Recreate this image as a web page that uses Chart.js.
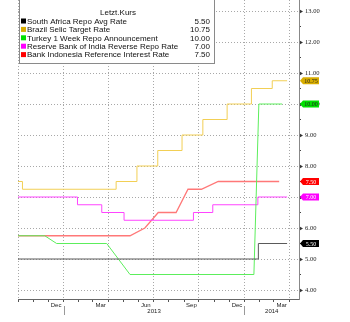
<!DOCTYPE html>
<html>
<head>
<meta charset="utf-8">
<script src="https://cdn.jsdelivr.net/npm/chart.js@4.4.1/dist/chart.umd.min.js"></script>
<style>
    html, body { margin: 0; padding: 0; background: #fff; }
</style>
</head>
<body>
<canvas id="chart" width="350" height="322"></canvas>
<script>
// =====================
// DATOS
// =====================
const seriesNames = [
    "South Africa Repo Avg Rate",
    "Brazil Selic Target Rate",
    "Turkey 1 Week Repo Announcement",
    "Reserve Bank of India Reverse Repo Rate",
    "Bank Indonesia Reference Interest Rate"
];

// escalones (cambia el valor en la fecha)
const saDates = ["2012-10-01", "2014-01-29", "2014-03-28"];
const saRates = [5.00, 5.50, 5.50];

const brDates = ["2012-10-01", "2012-10-10", "2013-04-17", "2013-05-29", "2013-07-10",
                 "2013-08-28", "2013-10-09", "2013-11-27", "2014-01-15", "2014-02-26", "2014-03-28"];
const brRates = [7.50, 7.25, 7.50, 8.00, 8.50, 9.00, 9.50, 10.00, 10.50, 10.75, 10.75];

const inDates = ["2012-10-01", "2013-01-29", "2013-03-19", "2013-05-03", "2013-09-20",
                 "2013-10-29", "2014-01-28", "2014-03-28"];
const inRates = [7.00, 6.75, 6.50, 6.25, 6.50, 6.75, 7.00, 7.00];

// vertices (lineas con pendiente)
const trDates = ["2012-10-01", "2012-11-24", "2012-12-18", "2013-03-29", "2013-05-15",
                 "2014-01-20", "2014-01-30", "2014-03-18"];
const trRates = [5.75, 5.75, 5.50, 5.50, 4.50, 4.50, 10.00, 10.00];

const idDates = ["2012-10-01", "2013-05-15", "2013-06-14", "2013-07-11", "2013-08-16",
                 "2013-09-09", "2013-10-06", "2013-11-09", "2014-03-12"];
const idRates = [5.75, 5.75, 6.00, 6.50, 6.50, 7.25, 7.25, 7.50, 7.50];

const yTicks = [4, 5, 6, 7, 8, 9, 10, 11, 12, 13];
const monthNames = ["Jan", "Feb", "Mar", "Apr", "May", "Jun", "Jul", "Aug", "Sep", "Oct", "Nov", "Dec"];
const yearLabels = ["2013", "2014"];
const yearStarts = ["2013-01-01", "2014-01-01"];

// =====================
// ESTILOS
// =====================
const lineColors = ["#5a5a5a", "#f2cf55", "#5cee5c", "#ff44ff", "#ff7878"];
const boxColors = ["#000000", "#d8ad00", "#00e000", "#ff00ff", "#ff0000"];
const tagText = ["#ffffff", "#222222", "#222222", "#ffffff", "#ffffff"];

const origin = Date.UTC(2012, 9, 1);
function toDay(s) {
    const p = s.split("-").map(Number);
    return (Date.UTC(p[0], p[1] - 1, p[2]) - origin) / 86400000;
}
function pts(dates, rates) {
    return dates.map((d, i) => ({ x: toDay(d), y: rates[i] }));
}

// inicio de cada mes (Oct 2012 .. Apr 2014)
const monthStarts = [];
for (let m = 9; m <= 12 + 12 + 3; m++) {
    monthStarts.push({ value: (Date.UTC(2012, m, 1) - origin) / 86400000, month: m % 12 });
}
const seriesData = [
    pts(saDates, saRates),
    pts(brDates, brRates),
    pts(trDates, trRates),
    pts(inDates, inRates),
    pts(idDates, idRates)
];
const stepped = [true, true, false, true, false];

const clear = "rgba(0,0,0,0)";

// =====================
// PLUGIN: leyenda, años, etiquetas
// =====================
const overlay = {
    id: "overlay",
    afterDraw(chart) {
        const ctx = chart.ctx;
        const xs = chart.scales.x, ys = chart.scales.y;
        ctx.save();

        // flechas del eje Y
        ctx.fillStyle = "#333";
        yTicks.forEach(v => {
            const py = Math.round(ys.getPixelForValue(v)) + 0.5;
            ctx.beginPath();
            ctx.moveTo(xs.right + 1, py - 1.8);
            ctx.lineTo(xs.right + 4, py);
            ctx.lineTo(xs.right + 1, py + 1.8);
            ctx.closePath();
            ctx.fill();
        });

        // años
        ctx.font = "6px 'Liberation Sans'";
        ctx.fillStyle = "#222";
        ctx.textAlign = "center";
        ctx.textBaseline = "middle";
        yearLabels.forEach((lab, i) => {
            const a = Math.max(xs.getPixelForValue(toDay(yearStarts[i])), xs.left);
            const endYear = Number(lab) + 1;
            const b = Math.min(xs.getPixelForValue(toDay(endYear + "-01-01")), xs.right);
            ctx.fillText(lab, (a + b) / 2, 311);
        });
        ctx.strokeStyle = "#999";
        ctx.lineWidth = 1;
        yearStarts.forEach(s => {
            const px = Math.round(xs.getPixelForValue(toDay(s))) + 0.5;
            ctx.beginPath();
            ctx.moveTo(px, 306);
            ctx.lineTo(px, 315);
            ctx.stroke();
        });

        // etiquetas de ultimo valor
        ctx.font = "6px 'Liberation Serif'";
        seriesData.forEach((data, i) => {
            const v = data[data.length - 1].y;
            const py = ys.getPixelForValue(v);
            const x0 = xs.right + 1;
            ctx.fillStyle = boxColors[i];
            ctx.beginPath();
            ctx.moveTo(x0, py);
            ctx.lineTo(x0 + 3, py - 3.5);
            ctx.lineTo(x0 + 19, py - 3.5);
            ctx.lineTo(x0 + 19, py + 3.5);
            ctx.lineTo(x0 + 3, py + 3.5);
            ctx.closePath();
            ctx.fill();
            ctx.fillStyle = tagText[i];
            ctx.textAlign = "center";
            ctx.fillText(v.toFixed(2), x0 + 11, py + 0.5);
        });

        // leyenda
        ctx.fillStyle = "#fff";
        ctx.fillRect(19, -1, 196, 64);
        ctx.strokeStyle = "#8a8a8a";
        ctx.strokeRect(19.5, -0.5, 195, 64);
        ctx.font = "8px 'Liberation Sans'";
        ctx.fillStyle = "#111";
        ctx.textAlign = "center";
        ctx.fillText("Letzt.Kurs", 118, 13);
        seriesNames.forEach((name, i) => {
            const ry = 21 + i * 8.4;
            ctx.fillStyle = boxColors[i];
            ctx.fillRect(21, ry - 2.5, 5, 5);
            ctx.fillStyle = "#111";
            ctx.textAlign = "left";
            ctx.fillText(name, 27, ry + 0.5);
            ctx.textAlign = "right";
            const d = seriesData[i];
            ctx.fillText(d[d.length - 1].y.toFixed(2), 210, ry + 0.5);
        });
        ctx.restore();
    }
};

// =====================
// LINE CHART
// =====================
new Chart(document.getElementById("chart"), {
    type: "line",
    data: {
        datasets: seriesData.map((d, i) => ({
            label: seriesNames[i],
            data: d,
            borderColor: lineColors[i],
            borderWidth: i === 4 ? 1.3 : 1,
            stepped: stepped[i],
            pointRadius: 0,
            tension: 0,
            fill: false
        }))
    },
    options: {
        responsive: false,
        animation: false,
        devicePixelRatio: 1,
        layout: { padding: { left: 18, top: 0, right: 0, bottom: 0 } },
        plugins: {
            legend: { display: false },
            tooltip: { enabled: false }
        },
        scales: {
            x: {
                type: "linear",
                min: 0,
                max: 567,
                afterBuildTicks: s => { s.ticks = monthStarts.map(t => ({ value: t.value })); },
                afterFit: s => {
                    s.height = 23;
                    s.paddingLeft = 0; s.paddingRight = 0;
                },
                grid: {
                    color: c => (c.tick && monthStarts[c.index] && monthStarts[c.index].month % 3 === 0) ? "#a8a8a8" : clear,
                    tickColor: "#555",
                    tickLength: 3
                },
                border: { color: "#666", dash: [1, 2] },
                ticks: {
                    autoSkip: false,
                    maxRotation: 0,
                    padding: 0,
                    labelOffset: -7.5,
                    color: "#222",
                    font: { size: 6, family: "'Liberation Sans'" },
                    callback: (v, i) => {
                        const m = monthStarts[i];
                        if (!m || i === 0 || m.month % 3 !== 0) return "";
                        return monthNames[(m.month + 11) % 12];
                    }
                }
            },
            y: {
                type: "linear",
                position: "right",
                min: 3.71,
                max: 13.355,
                afterBuildTicks: s => {
                    const t = [];
                    for (let k = 8; k <= 26; k++) t.push({ value: k / 2 });
                    s.ticks = t;
                },
                afterFit: s => {
                    s.width = 51;
                    s.paddingTop = 0; s.paddingBottom = 0;
                },
                grid: {
                    color: c => (c.tick && Number.isInteger(c.tick.value)) ? "#a8a8a8" : clear,
                    tickColor: "#444",
                    tickLength: 2
                },
                border: { color: "#888", dash: [1, 2] },
                ticks: {
                    padding: 4,
                    color: "#222",
                    font: { size: 6.5, family: "'Liberation Serif'" },
                    callback: v => Number.isInteger(v) ? v.toFixed(2) : ""
                }
            }
        }
    },
    plugins: [overlay]
});
</script>
</body>
</html>
